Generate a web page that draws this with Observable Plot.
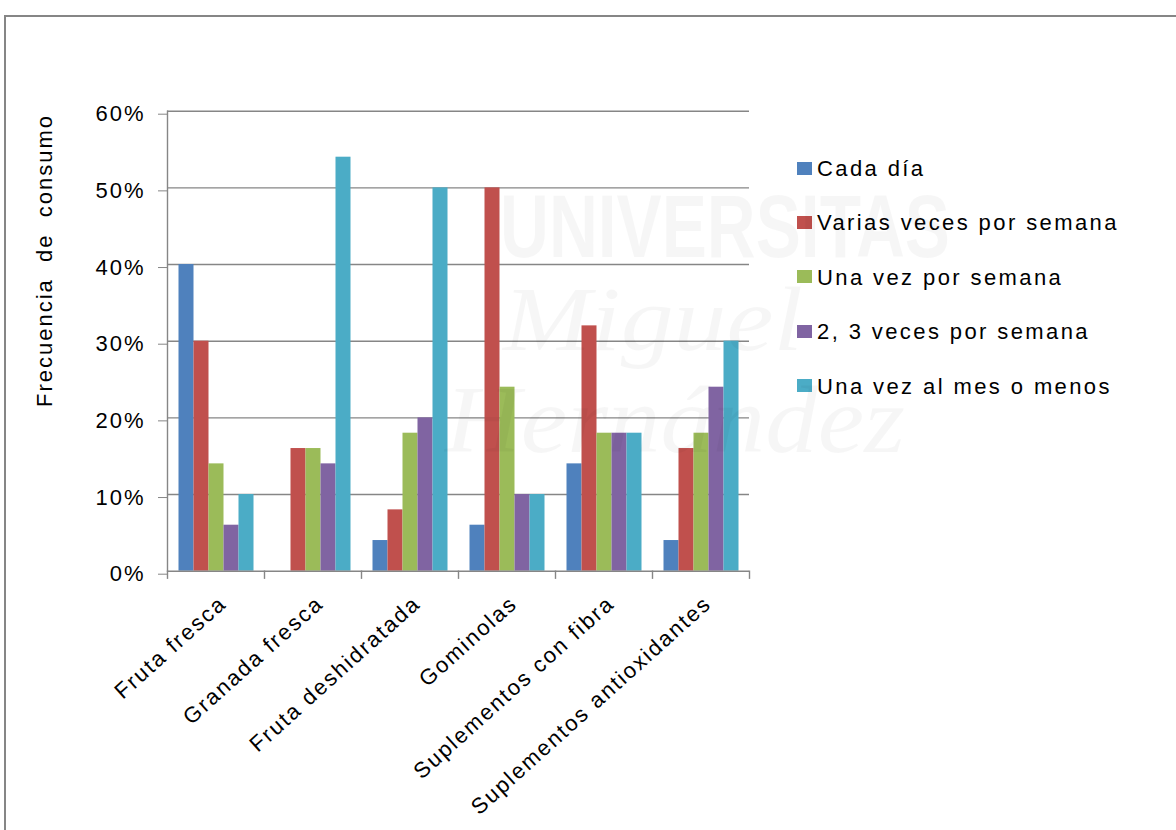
<!DOCTYPE html>
<html>
<head>
<meta charset="utf-8">
<script src="https://cdn.jsdelivr.net/npm/d3@7"></script>
<script src="https://cdn.jsdelivr.net/npm/@observablehq/plot@0.6"></script>
<style>
  html, body { margin: 0; padding: 0; background: #fff; width: 1176px; height: 830px; overflow: hidden; }
  #wrap { position: relative; width: 1176px; height: 830px; font-family: "Liberation Sans", Arial, sans-serif; }
  #border { position: absolute; left: 4px; top: 15px; width: 1300px; height: 1000px; border: 2px solid #868686; box-sizing: border-box; }
  #chart { position: absolute; left: 0; top: 0; }
  #legend { position: absolute; left: 0; top: 0; }
  .item { position: absolute; left: 797px; height: 24px; }
  .sw { position: absolute; left: 0; width: 15px; height: 13px; }
  .lbl { position: absolute; left: 20px; top: 0; font-size: 22px; line-height: 22px; letter-spacing: 2.4px; white-space: nowrap; color: #000; }
  #wm { position: absolute; left: 0; top: 0; pointer-events: none; }
</style>
</head>
<body>
<div id="wrap">
  <div id="border"></div>
  <div id="chart"></div>
  <div id="legend"></div>
  <svg id="wm" width="1176" height="830"></svg>
</div>
<script>
const categories = ["Fruta fresca", "Granada fresca", "Fruta deshidratada", "Gominolas", "Suplementos con fibra", "Suplementos antioxidantes"];
const series = ["Cada día", "Varias veces por semana", "Una vez por semana", "2, 3 veces por semana", "Una vez al mes o menos"];
const cadaDia      = [40, 0, 4, 6, 14, 4];
const variasVeces  = [30, 16, 8, 50, 32, 16];
const unaVezSemana = [14, 16, 18, 24, 18, 18];
const dosTresVeces = [6, 14, 20, 10, 18, 24];
const unaVezMes    = [10, 54, 50, 10, 18, 30];
const yTicks = [0, 10, 20, 30, 40, 50, 60];
const colors = ["#4F81BD", "#C0504D", "#9BBB59", "#8064A2", "#4BACC6"];
const yTitle = "Frecuencia\u00a0 de\u00a0 consumo";

const seriesValues = [cadaDia, variasVeces, unaVezSemana, dosTresVeces, unaVezMes];
const data = categories.flatMap((c, i) => series.map((s, j) => ({cat: c, series: s, value: seriesValues[j][i]})));

const gray = "#868686";
const plot = Plot.plot({
  width: 1176,
  height: 830,
  marginLeft: 166.5,
  marginRight: 427.5,
  marginTop: 110.7,
  marginBottom: 259.3,
  style: {background: "transparent", fontFamily: "'Liberation Sans', Arial, sans-serif", fontSize: "22px", color: "#000", letterSpacing: "2px", overflow: "visible"},
  fx: {domain: categories, padding: 0, label: null, axis: null},
  x: {domain: series, paddingInner: 0, paddingOuter: 0.68, axis: null},
  y: {domain: [0, 60], label: null},
  color: {domain: series, range: colors},
  marks: [
    Plot.ruleY(yTicks.filter(d => d > 0), {stroke: gray, strokeWidth: 1.4}),
    Plot.barY(data, {fx: "cat", x: "series", y: "value", fill: "series"}),
    Plot.ruleY([0], {stroke: gray, strokeWidth: 1.4}),
    Plot.frame({anchor: "left", facetAnchor: "left", stroke: gray, strokeWidth: 1.4}),
    Plot.frame({anchor: "left", insetTop: 460, insetBottom: -7, stroke: gray, strokeWidth: 1.4}),
    Plot.frame({anchor: "right", facetAnchor: "right", insetTop: 460, insetBottom: -7, stroke: gray, strokeWidth: 1.4}),
    Plot.axisY({ticks: yTicks, tickSize: 9, tickPadding: 13, tickFormat: d => d + "%", label: null, stroke: gray, fontSize: 22, dy: 3}),
    Plot.axisFx({anchor: "bottom", tickSize: 0, tickPadding: 29, tickRotate: -42, label: null, fontSize: 22, dx: 7}),
    Plot.text([yTitle], {facetAnchor: "left", frameAnchor: "left", text: d => d, rotate: -90, dx: -122.5, dy: -80.7, fontSize: 22, lineAnchor: "middle", textAnchor: "middle"})
  ]
});
document.getElementById("chart").appendChild(plot);

// Legend (HTML), colours taken from the plot's colour scale
const color = plot.scale("color");
const legend = d3.select("#legend");
series.forEach((s, i) => {
  const item = legend.append("div").attr("class", "item").style("top", (158 + i * 54.4) + "px");
  item.append("div").attr("class", "sw").style("top", "3.7px").style("background", color.apply(s));
  item.append("div").attr("class", "lbl").text(s);
});

// Faint watermark overlay
const wm = d3.select("#wm");
const wmFill = "rgba(0,0,0,0.035)";
wm.append("text").attr("x", 500).attr("y", 257).attr("font-family", "Liberation Sans, Arial").attr("font-weight", "bold")
  .attr("font-size", 89).attr("textLength", 450).attr("lengthAdjust", "spacingAndGlyphs").attr("fill", wmFill).text("UNIVERSITAS");
wm.append("text").attr("x", 503).attr("y", 350).attr("font-family", "Liberation Serif, serif").attr("font-style", "italic")
  .attr("font-size", 92).attr("textLength", 300).attr("lengthAdjust", "spacingAndGlyphs").attr("fill", wmFill).text("Miguel");
wm.append("text").attr("x", 445).attr("y", 452).attr("font-family", "Liberation Serif, serif").attr("font-style", "italic")
  .attr("font-size", 95).attr("textLength", 460).attr("lengthAdjust", "spacingAndGlyphs").attr("fill", wmFill).text("Hernández");
</script>
</body>
</html>
